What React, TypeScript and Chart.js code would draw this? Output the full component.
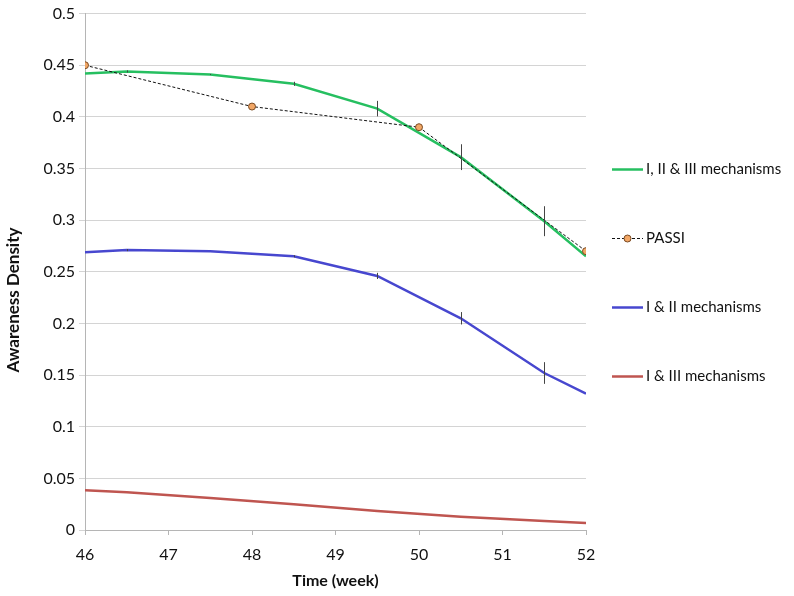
import React, { useEffect, useRef } from "react";
import { Chart, registerables } from "chart.js";

Chart.register(...registerables);

const weeksModel = [46, 46.5, 47.5, 48.5, 49.5, 50.5, 51.5, 52];
const allMechanisms = [0.442, 0.444, 0.441, 0.432, 0.408, 0.361, 0.299, 0.265];
const allMechanismsErr = [0, 0.001, 0.0005, 0.002, 0.0075, 0.0125, 0.0145, 0];
const mech12 = [0.269, 0.271, 0.27, 0.265, 0.246, 0.205, 0.152, 0.132];
const mech12Err = [0, 0.001, 0, 0.001, 0.003, 0.006, 0.0105, 0];
const mech13 = [0.0385, 0.0365, 0.031, 0.025, 0.0185, 0.0128, 0.0088, 0.0068];

const weeksPassi = [46, 48, 50, 52];
const passi = [0.45, 0.41, 0.39, 0.27];

const xTicks = [46, 47, 48, 49, 50, 51, 52];
const yTitle = "Awareness Density";
const xTitle = "Time (week)";

const GREEN = "#26bf60";
const BLUE = "#4747cf";
const RED = "#bf5550";
const ORANGE = "#f2a766";
const FONT = "Lato, 'Open Sans', sans-serif";

const errorBarPlugin = {
  id: "errorBars",
  afterDatasetsDraw(chart: any) {
    const { ctx, scales } = chart;
    const sets = [
      { vals: allMechanisms, errs: allMechanismsErr },
      { vals: mech12, errs: mech12Err },
    ];
    ctx.save();
    ctx.strokeStyle = "#444";
    ctx.lineWidth = 1;
    sets.forEach((s) => {
      s.errs.forEach((e, i) => {
        if (!e) return;
        const x = Math.round(scales.x.getPixelForValue(weeksModel[i])) + 0.5;
        const y1 = scales.y.getPixelForValue(s.vals[i] - e);
        const y2 = scales.y.getPixelForValue(s.vals[i] + e);
        ctx.beginPath();
        ctx.moveTo(x, y1);
        ctx.lineTo(x, y2);
        ctx.stroke();
      });
    });
    ctx.restore();
  },
};

const legendPlugin = {
  id: "customLegend",
  afterDraw(chart: any) {
    const { ctx, chartArea } = chart;
    const items = chart.data.datasets;
    const spacing = 69;
    const cy = (chartArea.top + chartArea.bottom) / 2 + 1;
    const startY = cy - (spacing * (items.length - 1)) / 2;
    const x0 = 612;
    const x1 = 643;
    ctx.save();
    ctx.font = `15px ${FONT}`;
    ctx.textBaseline = "middle";
    items.forEach((d: any, i: number) => {
      const y = Math.round(startY + i * spacing) + 0.5;
      ctx.beginPath();
      ctx.strokeStyle = d.borderColor;
      ctx.lineWidth = d.borderWidth;
      ctx.setLineDash(d.borderDash || []);
      ctx.moveTo(x0, y);
      ctx.lineTo(x1, y);
      ctx.stroke();
      ctx.setLineDash([]);
      if (d.pointRadius) {
        ctx.beginPath();
        ctx.fillStyle = d.pointBackgroundColor;
        ctx.strokeStyle = d.pointBorderColor;
        ctx.lineWidth = 1;
        ctx.arc((x0 + x1) / 2, y, d.pointRadius, 0, Math.PI * 2);
        ctx.fill();
        ctx.stroke();
      }
      ctx.fillStyle = "#111";
      ctx.fillText(d.label, x1 + 3, y);
    });
    // y axis title (offset like the original)
    ctx.translate(14, 300);
    ctx.rotate(-Math.PI / 2);
    ctx.font = `bold 17px ${FONT}`;
    ctx.textAlign = "center";
    ctx.fillStyle = "#111";
    ctx.fillText(yTitle, 0, 0);
    ctx.restore();
  },
};

export default function App() {
  const ref = useRef<HTMLCanvasElement>(null);
  useEffect(() => {
    if (!ref.current) return;
    const toPts = (xs: number[], ys: number[]) => xs.map((x, i) => ({ x, y: ys[i] }));
    const chart = new Chart(ref.current, {
      type: "line",
      data: {
        datasets: [
          {
            label: "I, II & III mechanisms",
            data: toPts(weeksModel, allMechanisms),
            borderColor: GREEN,
            borderWidth: 2.5,
            pointRadius: 0,
            order: 2,
          },
          {
            label: "PASSI",
            data: toPts(weeksPassi, passi),
            borderColor: "#111",
            borderWidth: 1,
            borderDash: [3, 2],
            pointRadius: 3.5,
            pointBackgroundColor: ORANGE,
            pointBorderColor: "#7a4a22",
            pointBorderWidth: 1,
            order: 1,
          },
          {
            label: "I & II mechanisms",
            data: toPts(weeksModel, mech12),
            borderColor: BLUE,
            borderWidth: 2.5,
            pointRadius: 0,
            order: 3,
          },
          {
            label: "I & III mechanisms",
            data: toPts(weeksModel, mech13),
            borderColor: RED,
            borderWidth: 2.5,
            pointRadius: 0,
            order: 4,
          },
        ] as any,
      },
      options: {
        responsive: false,
        animation: false,
        devicePixelRatio: 1,
        layout: { padding: { left: 0, top: 10, right: 208, bottom: 0 } },
        plugins: {
          legend: { display: false },
          tooltip: { enabled: false },
        },
        scales: {
          x: {
            type: "linear",
            min: 46,
            max: 52,
            afterFit: (s: any) => {
              s.height = 66;
            },
            afterBuildTicks: (s: any) => {
              s.ticks = xTicks.map((v) => ({ value: v }));
            },
            border: { color: "#b5b5b5", width: 1 },
            grid: {
              drawOnChartArea: false,
              drawTicks: true,
              tickLength: 5,
              color: "#b5b5b5",
            },
            ticks: {
              padding: 10,
              color: "#111",
              font: { family: FONT, size: 16 },
            },
            title: {
              display: true,
              text: xTitle,
              color: "#111",
              font: { family: FONT, size: 16, weight: "bold" },
              padding: { top: 0, bottom: 6 },
            },
          },
          y: {
            min: 0,
            max: 0.5,
            afterFit: (s: any) => {
              s.width = 85;
            },
            border: { color: "#b5b5b5", width: 1 },
            grid: {
              color: "#d4d4d4",
              tickLength: 6,
              drawTicks: true,
            },
            ticks: {
              stepSize: 0.05,
              padding: 4,
              color: "#111",
              font: { family: FONT, size: 16 },
              callback: (v: any) => String(Math.round(Number(v) * 100) / 100),
            },
            title: { display: false },
          },
        },
      } as any,
      plugins: [errorBarPlugin, legendPlugin],
    });
    return () => chart.destroy();
  }, []);
  return (
    <div style={{ position: "fixed", left: 0, top: 0, width: 794, height: 596, background: "#fff" }}>
      <canvas ref={ref} width={794} height={596} style={{ width: 794, height: 596 }} />
    </div>
  );
}
